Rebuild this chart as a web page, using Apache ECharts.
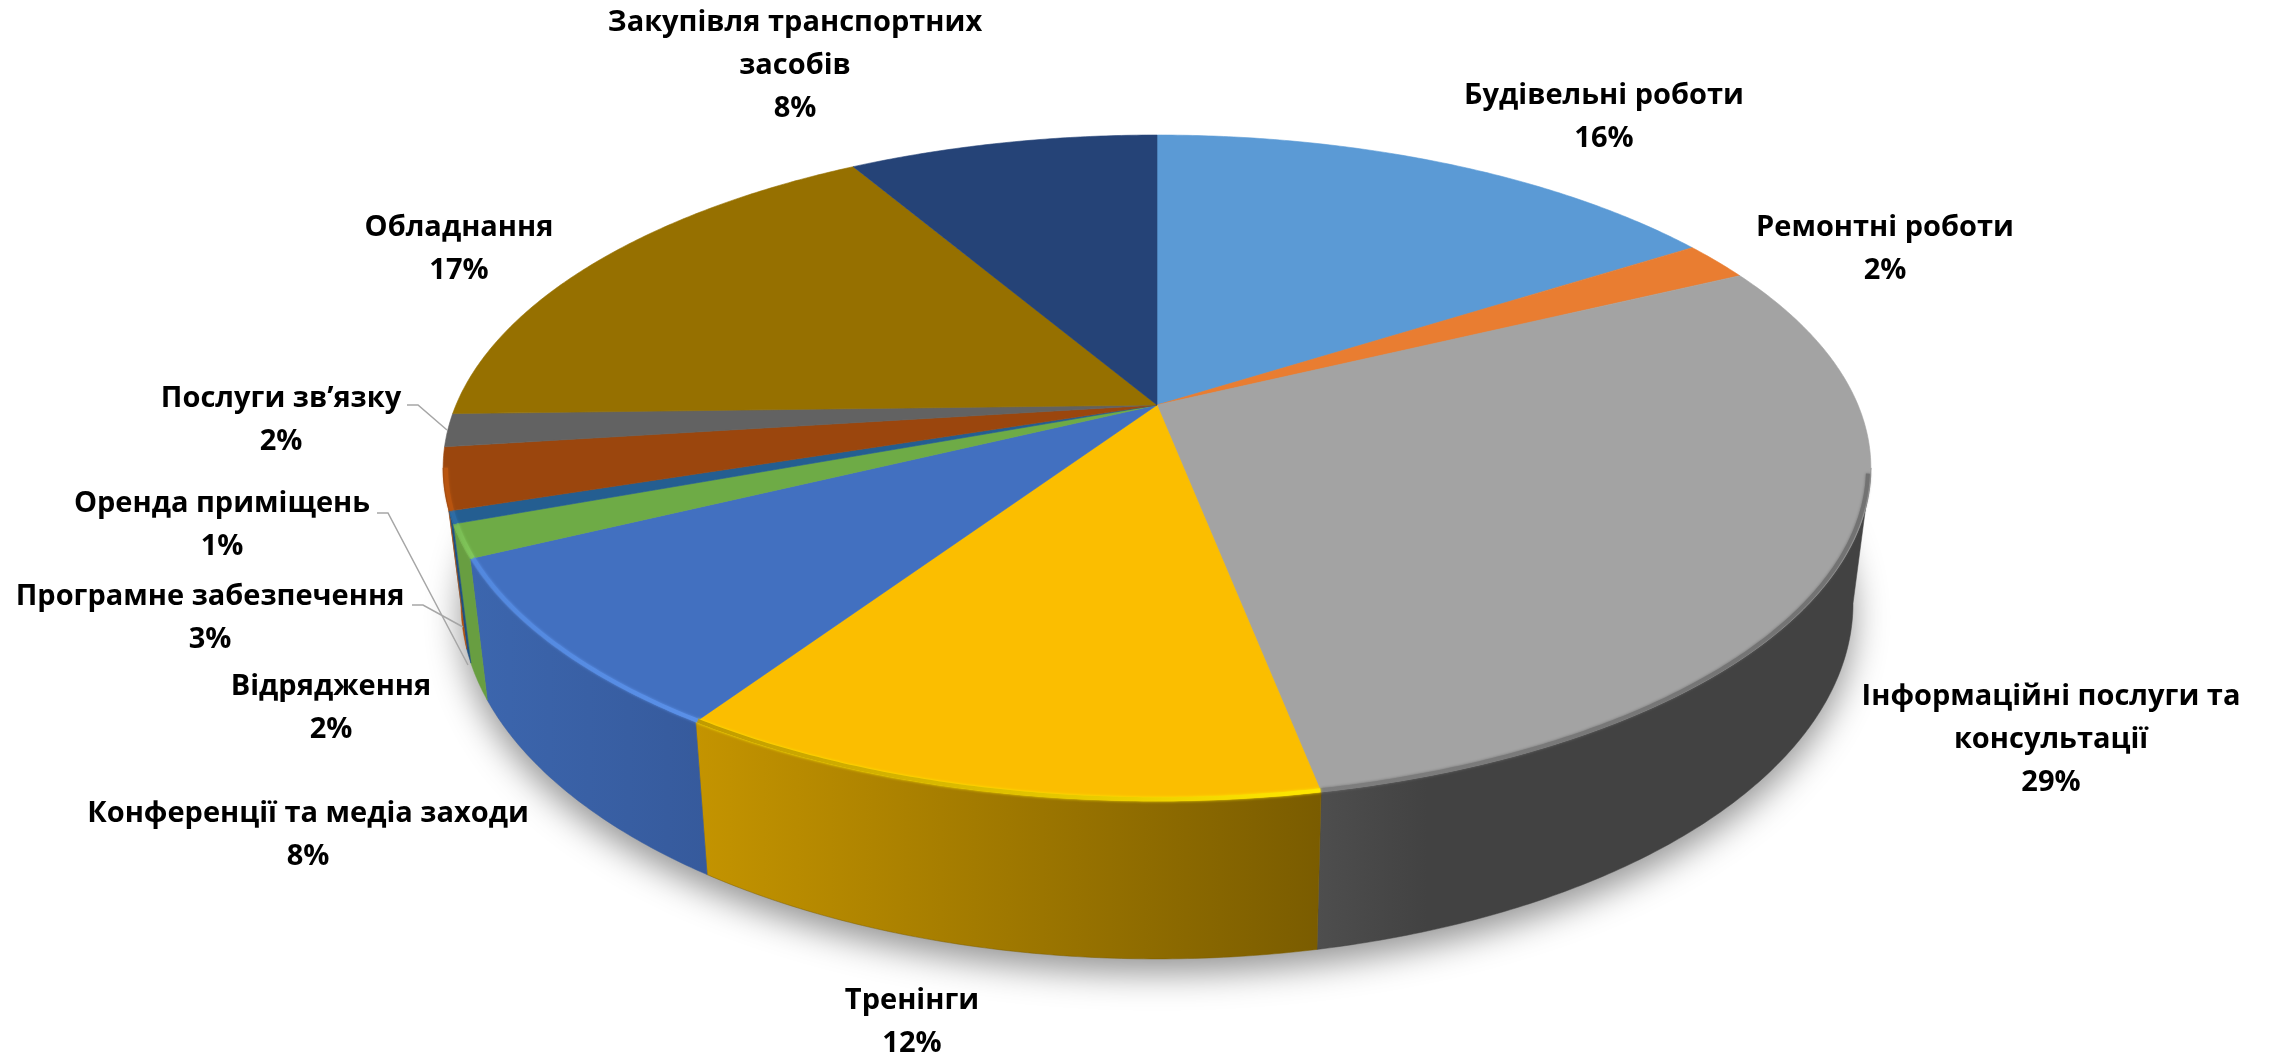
<!DOCTYPE html>
<html lang="uk">
<head>
<meta charset="utf-8">
<style>html,body{margin:0;padding:0;background:#fff}#chart{width:2270px;height:1055px}</style>
<script src="https://cdn.jsdelivr.net/npm/echarts@6/dist/echarts.min.js"></script>
</head>
<body>
<div id="chart"></div>
<script>
// ---------- data ----------
const categories = [
  'Будівельні роботи', 'Ремонтні роботи', 'Інформаційні послуги та\nконсультації', 'Тренінги',
  'Конференції та медіа заходи', 'Відрядження', 'Оренда приміщень', 'Програмне забезпечення',
  'Послуги зв’язку', 'Обладнання', 'Закупівля транспортних\nзасобів'
];
const shares = [15.9, 1.9, 29.1, 12.4, 8.4, 1.6, 0.6, 3.0, 1.6, 17.0, 8.4];
const percentLabels = ['16%', '2%', '29%', '12%', '8%', '2%', '1%', '3%', '2%', '17%', '8%'];

// ---------- styles ----------
const topColors = ['#5B9AD5', '#E97D31', '#A3A3A3', '#FBBE00', '#4270C0', '#6EAB46', '#245E91', '#9B460D', '#626262', '#967000', '#254377'];
const wallFrom = ['#4A7FB0', '#B85F20', '#4E4E4E', '#C49400', '#3C66AE', '#689E41', '#1F5080', '#AE4E0C', '#505050', '#7A5C00', '#1F3862'];
const wallTo   = ['#4A7FB0', '#B85F20', '#424242', '#7A5C00', '#365A9C', '#689E41', '#1F5080', '#AE4E0C', '#505050', '#7A5C00', '#1F3862'];
const wallMid  = [1, 1, 0.2, 1, 1, 1, 1, 1, 1, 1, 1];
const edgeFrom = ['', '', '#727272', '#FFE800', '#5A90E8', '#82C85C', '#2C6CA6', '#B8540F', '#6E6E6E', '', ''];
const edgeTo   = ['', '', '#7E7E7E', '#C09A00', '#5288DE', '#78BA52', '#2C6CA6', '#B8540F', '#6E6E6E', '', ''];

// label anchor per category (centre x, centre y of the whole block)
const labelX = [1604, 1885, 2051, 912, 308, 331, 222, 210, 281, 459, 795];
const labelY = [117, 249, 740, 1022, 835, 708, 525, 618, 420, 249, 66];
const leaderLines = [
  [[407, 405], [418, 405], [447, 430]],
  [[377, 513], [388, 513], [468, 665]],
  [[412, 605], [423, 605], [463, 627]]
];

// ---------- projection of the tilted disc ----------
const cx = 1157, cy = 405, A = 701, B = 321, k = 0.189;
const bottomDrop = 131, bottomSx = 0.975, bottomSy = 1.0685, rimInset = 0.996;
const total = shares.reduce((a, b) => a + b, 0);
const startDeg = [];
shares.reduce((acc, v, i) => { startDeg[i] = acc / total * 360; return acc + v; }, 0);
const endDeg = shares.map((v, i) => startDeg[i] + v / total * 360);
const tangent = Math.acos(-k) * 180 / Math.PI;
const frontFrom = tangent, frontTo = 360 - tangent;

function ratio(deg) {
  const t = deg * Math.PI / 180, u = Math.sin(t), v = -Math.cos(t), w = 1 - k * v;
  return [u / w, v / w];
}
function topPt(deg) { const r = ratio(deg); return [cx + A * r[0], cy + B * r[1]]; }
function rimPt(deg) { const r = ratio(deg); return [cx + rimInset * A * r[0], cy + rimInset * B * r[1]]; }
function botPt(deg) { const r = ratio(deg); return [cx + bottomSx * A * r[0], cy + bottomDrop + bottomSy * B * r[1]]; }
function arc(fn, a, b) {
  const out = [], n = Math.max(2, Math.ceil(Math.abs(b - a) / 0.5));
  for (let i = 0; i <= n; i++) out.push(fn(a + (b - a) * i / n));
  return out;
}
const hGrad = (a, b, mid) => ({ type: 'linear', x: 0, y: 0, x2: 1, y2: 0,
  colorStops: [{ offset: 0, color: a }, { offset: mid === undefined ? 1 : mid, color: b }, { offset: 1, color: b }] });

const ids = shares.map((v, i) => [i, v]);

const option = {
  animation: false,
  backgroundColor: '#ffffff',
  series: [
    { // soft cast shadow
      type: 'custom', coordinateSystem: 'none', silent: true, z: 1, data: [[0]],
      renderItem() {
        return { type: 'polygon', shape: { points: arc(botPt, 0, 360) },
          style: { fill: '#bdbdbd', shadowBlur: 34, shadowColor: 'rgba(0,0,0,0.42)', shadowOffsetY: 14 } };
      }
    },
    { // outer wall, front-facing part only
      type: 'custom', coordinateSystem: 'none', silent: true, z: 2, data: ids,
      renderItem(params) {
        const i = params.dataIndex;
        const a = Math.max(startDeg[i], frontFrom), b = Math.min(endDeg[i], frontTo);
        if (b <= a) return null;
        const pts = arc(topPt, a, b).concat(arc(botPt, b, a));
        return { type: 'polygon', shape: { points: pts },
          style: { fill: hGrad(wallFrom[i], wallTo[i], wallMid[i]), stroke: wallTo[i], lineWidth: 0.5 } };
      }
    },
    { // top face
      type: 'custom', coordinateSystem: 'none', silent: true, z: 3, data: ids,
      renderItem(params) {
        const i = params.dataIndex;
        const pts = [[cx, cy]].concat(arc(topPt, startDeg[i], endDeg[i]));
        return { type: 'polygon', shape: { points: pts }, style: { fill: topColors[i], stroke: topColors[i], lineWidth: 0.6 } };
      }
    },
    { // bevel highlight along the front rim
      type: 'custom', coordinateSystem: 'none', silent: true, z: 4, data: ids,
      renderItem(params) {
        const i = params.dataIndex;
        if (!edgeFrom[i]) return null;
        const a = Math.max(startDeg[i], frontFrom + 1), b = Math.min(endDeg[i], frontTo);
        if (b <= a) return null;
        return { type: 'polyline', shape: { points: arc(rimPt, a, b) },
          style: { fill: null, stroke: hGrad(edgeTo[i], edgeFrom[i]), lineWidth: 4, shadowBlur: 3, shadowColor: edgeFrom[i] } };
      }
    },
    { // data labels
      type: 'custom', coordinateSystem: 'none', silent: true, z: 6, data: ids,
      renderItem(params) {
        const i = params.dataIndex;
        return { type: 'text', x: labelX[i], y: labelY[i],
          style: { text: categories[i] + '\n' + percentLabels[i], fill: '#000', font: 'bold 29px "Open Sans"',
            align: 'center', verticalAlign: 'middle', lineHeight: 43 } };
      }
    },
    { // leader lines
      type: 'custom', coordinateSystem: 'none', silent: true, z: 5, data: leaderLines.map((l, i) => [i]),
      renderItem(params) {
        return { type: 'polyline', shape: { points: leaderLines[params.dataIndex] },
          style: { fill: null, stroke: '#A6A6A6', lineWidth: 1.5 } };
      }
    }
  ]
};
const chart = echarts.init(document.getElementById('chart'), null, { renderer: 'canvas', width: 2270, height: 1055 });
chart.setOption(option);
</script>
</body>
</html>
